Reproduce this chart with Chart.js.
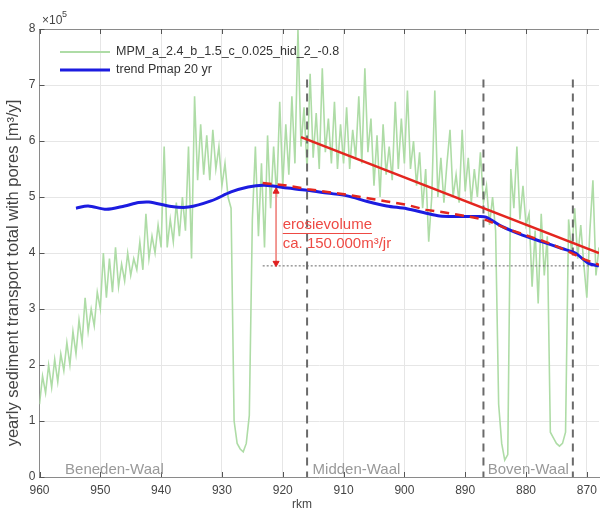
<!DOCTYPE html>
<html lang="en">
<head>
  <meta charset="UTF-8">
  <title>Sediment transport Waal</title>
  <style>
    body { margin: 0; padding: 0; background: #fff; }
    #chart { display: block; }
  </style>
</head>
<body>
  <canvas id="chart" width="604" height="513" style="width:604px;height:513px"></canvas>

  <script src="https://cdn.jsdelivr.net/npm/chart.js"></script>
  <script>
    // ---- data (transport in units of 1e5 m3/y, x in rkm) ----
    const mpmKm = [
      960, 959.5, 959, 958.5, 958, 957.5, 957, 956.5, 956, 955.5, 955, 954.5, 954, 953.5, 953, 952.5,
      952, 951.5, 951, 950.5, 950, 949.5, 949, 948.5, 948, 947.5, 947, 946.5, 946, 945.5, 945, 944.5,
      944, 943.5, 943, 942.5, 942, 941.5, 941, 940.5, 940, 939.5, 939, 938.5, 938, 937.5, 937, 936.5,
      936, 935.5, 935, 934.5, 934, 933.5, 933, 932.5, 932, 931.5, 931, 930.5, 930, 929.5, 929, 928.5,
      928, 927.5, 927, 926.5, 926, 925.5, 925, 924.5, 924, 923.5, 923, 922.5, 922, 921.5, 921, 920.5,
      920, 919.5, 919, 918.5, 918, 917.5, 917, 916.5, 916, 915.5, 915, 914.5, 914, 913.5, 913, 912.5,
      912, 911.5, 911, 910.5, 910, 909.5, 909, 908.5, 908, 907.5, 907, 906.5, 906, 905.5, 905, 904.5,
      904, 903.5, 903, 902.5, 902, 901.5, 901, 900.5, 900, 899.5, 899, 898.5, 898, 897.5, 897, 896.5,
      896, 895.5, 895, 894.5, 894, 893.5, 893, 892.5, 892, 891.5, 891, 890.5, 890, 889.5, 889, 888.5,
      888, 887.5, 887, 886.5, 886, 885.5, 885, 884.5, 884, 883.5, 883, 882.5, 882, 881.5, 881, 880.5,
      880, 879.5, 879, 878.5, 878, 877.5, 877, 876.5, 876, 875.5, 875, 874.5, 874, 873.5, 873, 872.5,
      872, 871.5, 871, 870.5, 870, 869.5, 869, 868.5, 868
    ];
    const mpmVal = [
      1.3, 1.8, 1.5, 2.0, 1.6, 2.1, 1.7, 2.2, 1.9, 2.4, 2.0, 2.6, 2.2, 2.8, 2.4, 3.2,
      2.6, 3.0, 2.7, 3.3, 3.0, 4.0, 3.2, 3.9, 3.3, 4.1, 3.4, 3.8, 3.5, 4.0, 3.6, 3.9,
      3.7, 4.2, 3.7, 4.7, 3.9, 4.3, 4.0, 4.5, 4.1, 5.9, 4.1, 4.6, 4.2, 4.9, 4.3, 5.0,
      4.4, 5.9, 3.9, 6.8, 5.3, 6.3, 5.4, 6.1, 5.3, 6.2, 5.5, 5.9, 5.2, 5.6, 5.0, 4.8,
      1.0, 0.6, 0.5, 0.45, 0.6, 1.1, 4.6, 5.9, 4.3, 5.6, 4.1, 6.1, 4.8, 5.9, 5.0, 6.7,
      5.2, 6.3, 5.4, 6.8, 5.6, 8.0, 5.9, 6.6, 5.5, 7.2, 5.7, 6.5, 5.5, 7.3, 5.8, 6.4,
      5.6, 6.7, 5.5, 6.3, 5.6, 6.6, 5.5, 6.2, 5.7, 6.8, 5.6, 7.3, 5.8, 6.4, 5.2, 6.1,
      5.0, 6.3, 5.4, 5.9, 5.3, 6.7, 5.5, 6.4, 5.6, 6.9, 5.5, 6.0, 5.2, 5.8, 4.8, 5.5,
      4.2, 5.0, 6.9, 5.0, 5.7, 4.9, 5.6, 6.2, 5.0, 5.4, 4.9, 6.2, 5.1, 5.7, 4.9, 5.5,
      5.0, 5.8, 4.9, 5.2, 4.5, 5.0, 4.4, 1.3, 0.6, 0.3, 0.4, 5.5, 4.8, 5.9, 4.6, 5.2,
      4.5, 4.7, 3.4, 4.4, 3.1, 4.7, 3.6, 4.3, 0.8, 0.7, 0.6, 0.55, 0.6, 0.8, 4.6, 4.0,
      4.8, 3.9, 4.5, 3.8, 3.2, 4.4, 5.3, 3.6, 4.1
    ];

    const trendKm  = [954, 952, 949, 946, 943.7, 942, 938.3, 935.5, 931.8, 928.5, 925.7, 923, 919.2, 916, 912.7, 909.4, 906.1, 902.9, 899.6, 896.4, 894.2, 891.5, 888.2, 886.6, 883.9, 880.6, 877.3, 874.1, 871.9, 869.8, 868];
    const trendVal = [4.80, 4.84, 4.78, 4.84, 4.90, 4.91, 4.83, 4.82, 4.93, 5.09, 5.18, 5.21, 5.16, 5.12, 5.07, 5.02, 4.92, 4.84, 4.79, 4.71, 4.66, 4.65, 4.65, 4.64, 4.47, 4.32, 4.20, 4.08, 4.00, 3.82, 3.77];

    const fitKm  = [923.3, 919.7, 915.9, 909.4, 902.9, 899.6, 896.4, 893.1, 889.9, 886.6, 883.3, 880.1, 876.8, 873.5, 870.3, 868];
    const fitVal = [5.25, 5.21, 5.14, 5.04, 4.92, 4.86, 4.77, 4.72, 4.66, 4.59, 4.44, 4.32, 4.20, 4.05, 3.88, 3.79];

    const slopeKm  = [917, 868];
    const slopeVal = [6.07, 4.0];

    const baseKm  = [923.3, 868];
    const baseVal = [3.77, 3.77];

    const arrowKm  = [921.1, 921.1];
    const arrowVal = [5.1, 3.82];

    const reachKm = [916, 887, 872.3];
    const reachTop = 7.1;

    const reachNames = ['Beneden-Waal', 'Midden-Waal', 'Boven-Waal'];
    const xTicks = [960, 950, 940, 930, 920, 910, 900, 890, 880, 870];
    const yTicks = [0, 1, 2, 3, 4, 5, 6, 7, 8];

    const FONT = "'Liberation Sans', Arial, sans-serif";
    const GREEN = '#aedca6';
    const BLUE = '#1c1ce0';
    const RED = '#e3261f';

    const pts = (xs, ys) => xs.map((x, i) => ({ x: x, y: ys[i] }));

    const datasets = [
      { data: pts(mpmKm, mpmVal), borderColor: GREEN, borderWidth: 1.6, order: 10 },
      { data: pts(trendKm, trendVal), borderColor: BLUE, borderWidth: 3, order: 4, tension: 0.3 },
      { data: pts(fitKm, fitVal), borderColor: RED, borderWidth: 2.5, borderDash: [9, 6], order: 3 },
      { data: pts(slopeKm, slopeVal), borderColor: RED, borderWidth: 2.5, order: 2 },
      { data: pts(baseKm, baseVal), borderColor: '#666', borderWidth: 1, borderDash: [2, 2], order: 6 },
      { data: pts(arrowKm, arrowVal), borderColor: '#f08a86', borderWidth: 1, order: 5,
        pointStyle: 'triangle', pointRadius: 3.5, pointRotation: [0, 180],
        pointBackgroundColor: '#e02020', pointBorderColor: '#e02020' }
    ];
    reachKm.forEach(km => {
      datasets.push({ data: pts([km, km], [reachTop, 0]), borderColor: '#6a6a6a', borderWidth: 2,
        borderDash: [8, 6], order: 7 });
    });

    // extra drawing: frame, inner ticks, legend, labels, annotation
    const extras = {
      id: 'extras',
      afterDatasetsDraw(chart) {
        const { ctx, chartArea: a, scales: { x, y } } = chart;
        ctx.save();

        // top frame
        ctx.strokeStyle = '#8a8a8a';
        ctx.lineWidth = 1;
        ctx.beginPath();
        ctx.moveTo(a.left, a.top + 0.5);
        ctx.lineTo(a.right, a.top + 0.5);
        ctx.stroke();

        // inner ticks
        ctx.strokeStyle = '#555';
        ctx.beginPath();
        xTicks.forEach(v => {
          const px = Math.round(x.getPixelForValue(v)) + 0.5;
          ctx.moveTo(px, a.bottom); ctx.lineTo(px, a.bottom - 5);
          ctx.moveTo(px, a.top); ctx.lineTo(px, a.top + 5);
        });
        yTicks.forEach(v => {
          const py = Math.round(y.getPixelForValue(v)) + 0.5;
          ctx.moveTo(a.left, py); ctx.lineTo(a.left + 5, py);
        });
        ctx.stroke();

        // legend
        ctx.lineWidth = 2;
        ctx.strokeStyle = GREEN;
        ctx.beginPath(); ctx.moveTo(60, 52); ctx.lineTo(110, 52); ctx.stroke();
        ctx.lineWidth = 3;
        ctx.strokeStyle = BLUE;
        ctx.beginPath(); ctx.moveTo(60, 70); ctx.lineTo(110, 70); ctx.stroke();
        ctx.fillStyle = '#333';
        ctx.font = '12.5px ' + FONT;
        ctx.textAlign = 'left';
        ctx.textBaseline = 'middle';
        ctx.fillText('MPM_a_2.4_b_1.5_c_0.025_hid_2_-0.8', 116, 52);
        ctx.fillText('trend Pmap 20 yr', 116, 70);

        // reach names
        ctx.fillStyle = '#999';
        ctx.font = '15px ' + FONT;
        [955.8, 915.1, 886.3].forEach((km, i) => {
          ctx.fillText(reachNames[i], x.getPixelForValue(km), y.getPixelForValue(0.12));
        });

        // erosion annotation
        ctx.fillStyle = '#ee4a44';
        ctx.font = '15px ' + FONT;
        const ax = x.getPixelForValue(920.0);
        const ay1 = y.getPixelForValue(4.5);
        const ay2 = y.getPixelForValue(4.16);
        ctx.fillText('erosievolume', ax, ay1);
        const w = ctx.measureText('erosievolume').width;
        ctx.strokeStyle = '#ee4a44';
        ctx.lineWidth = 1;
        ctx.beginPath(); ctx.moveTo(ax, ay1 + 8.5); ctx.lineTo(ax + w, ay1 + 8.5); ctx.stroke();
        ctx.fillText('ca. 150.000m\u00B3/jr', ax, ay2);

        // exponent
        ctx.fillStyle = '#444';
        ctx.font = '12px ' + FONT;
        ctx.fillText('\u00D710', 42, 21);
        ctx.font = '9px ' + FONT;
        ctx.fillText('5', 62, 15);

        // axis titles
        ctx.font = '12px ' + FONT;
        ctx.textAlign = 'center';
        ctx.fillText('rkm', 302, 505);
        ctx.translate(13, 273);
        ctx.rotate(-Math.PI / 2);
        ctx.font = '16.5px ' + FONT;
        ctx.fillText('yearly sediment transport total with pores [m\u00B3/y]', 0, 0);

        ctx.restore();
      }
    };

    new Chart(document.getElementById('chart'), {
      type: 'line',
      data: { datasets: datasets },
      options: {
        responsive: false,
        animation: false,
        devicePixelRatio: 1,
        layout: { padding: { top: 29, right: 0, left: 0, bottom: 0 } },
        elements: { point: { radius: 0 }, line: { fill: false, tension: 0 } },
        plugins: { legend: { display: false }, tooltip: { enabled: false } },
        scales: {
          x: {
            type: 'linear', reverse: true, min: 868, max: 960,
            afterBuildTicks: s => { s.ticks = xTicks.map(v => ({ value: v })); },
            afterFit: s => { s.height = 36; },
            grid: { color: '#e6e6e6', drawTicks: false },
            border: { color: '#8a8a8a' },
            ticks: { color: '#444', padding: 6, font: { family: FONT, size: 12 }, maxRotation: 0 }
          },
          y: {
            min: 0, max: 8,
            afterBuildTicks: s => { s.ticks = yTicks.map(v => ({ value: v })); },
            afterFit: s => { s.width = 39.5; },
            grid: { color: '#e6e6e6', drawTicks: false },
            border: { color: '#8a8a8a' },
            ticks: { color: '#444', padding: 4, font: { family: FONT, size: 12 } }
          }
        }
      },
      plugins: [extras]
    });
  </script>
</body>
</html>
